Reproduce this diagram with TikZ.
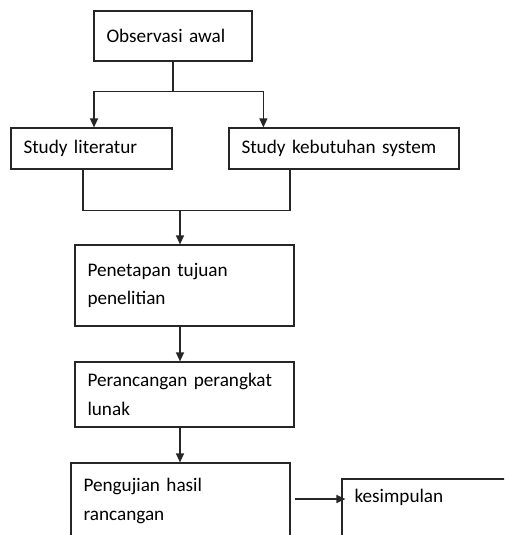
\documentclass[tikz,border=0pt]{standalone}
\usepackage{fontspec}
\setmainfont{Carlito}[WordSpace=0.8]
\usetikzlibrary{arrows.meta}
\begin{document}
\begin{tikzpicture}[x=1pt,y=-1pt,
  box/.style={draw=black!85, line width=1.2pt, rectangle, inner xsep=12.5pt, inner ysep=0pt,
    align=left, font=\fontsize{19.2}{28.5}\selectfont},
  arr/.style={draw=black!85, line width=1.2pt, -{Triangle[length=9pt,width=8pt]}},
  ln/.style={draw=black!85, line width=1.2pt}]
\useasboundingbox (0,0) rectangle (504,535);
\begin{scope}
\clip (0,0) rectangle (504,535);
\node[box, text width=133pt, minimum height=50pt] (obs) at (173,36) {Observasi awal};
\node[box, text width=136pt, minimum height=41pt] (lit) at (91.5,148.5) {Study literatur};
\node[box, text width=205pt, minimum height=41pt] (keb) at (344,148.5) {Study kebutuhan system};
\node[box, text width=194pt, minimum height=81pt] (pen) at (184.5,285.5) {Penetapan tujuan\\penelitian};
\node[box, text width=194pt, minimum height=65pt] (per) at (184.5,394.5) {Perancangan perangkat\\lunak};
\node[box, text width=194pt, minimum height=76pt] (uji) at (180.5,501) {Pengujian hasil\\rancangan};
\node[box, text width=163pt, minimum height=70pt] (kes) at (436,514) {kesimpulan\\\strut};

\coordinate (j1) at ([yshift=-30pt]obs.south);
\draw[ln] (obs.south) -- (j1);
\draw[arr] (j1) -| ([xshift=2.5pt]lit.north);
\draw[arr] (j1) -| ([xshift=35pt]keb.north west);

\coordinate (j2) at ([yshift=-41pt]lit.south -| pen.north);
\draw[ln] ([xshift=-8.5pt]lit.south) |- (j2) -| ([xshift=-54pt]keb.south);
\draw[arr] ([xshift=-4.5pt]j2) -- ([xshift=-4.5pt]j2 |- pen.north);

\draw[arr] ([xshift=-4.5pt]pen.south) -- ([xshift=-4.5pt]per.north);
\draw[arr] ([xshift=-4.5pt]per.south) -- ([xshift=-4.5pt]per.south |- uji.north);
\draw[arr] ([shift={(4pt,2pt)}]uji.east) -- ([shift={(4pt,2pt)}]uji.east -| kes.west);
\end{scope}
\end{tikzpicture}
\end{document}
